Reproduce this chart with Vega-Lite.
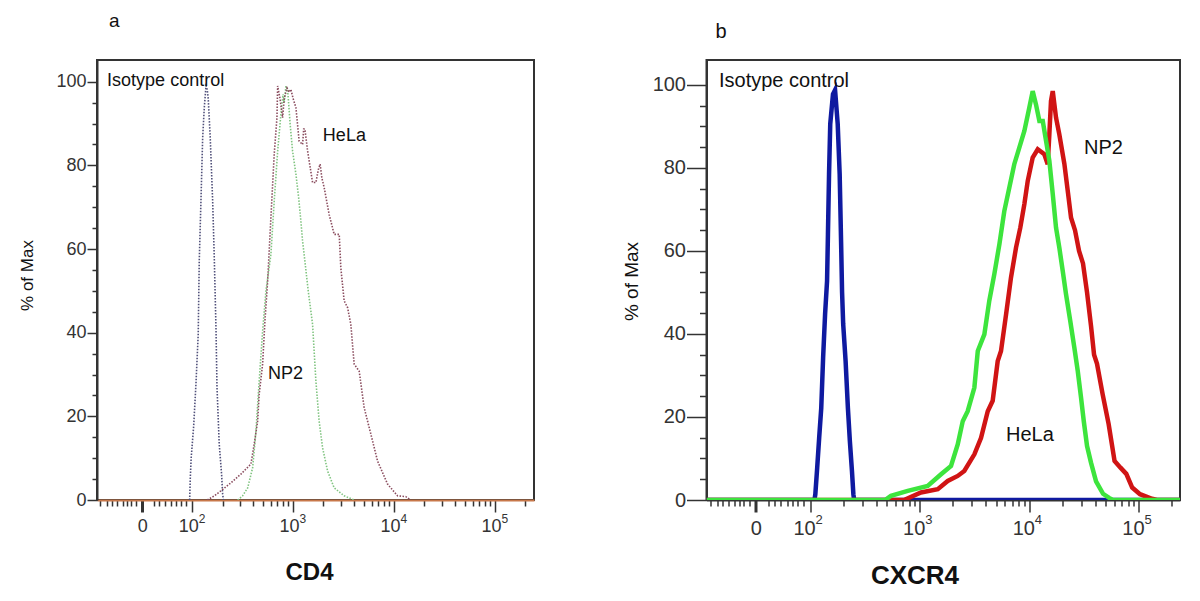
{
  "$schema": "https://vega.github.io/schema/vega-lite/v6.json",
  "autosize": {"type": "pad"},
  "padding": {"left": 17, "top": 11, "right": 21, "bottom": 12},
  "background": "white",
  "config": {
    "view": {"stroke": "#333333", "strokeWidth": 2},
    "font": "Liberation Sans",
    "axis": {"labelFont": "Liberation Sans", "titleFont": "Liberation Sans", "grid": false}
  },
  "datasets": {
    "cd4": [
      {"series": "Isotype", "pos": 1.975, "pct": 0}, {"series": "Isotype", "pos": 1.981, "pct": 5}, {"series": "Isotype", "pos": 1.99, "pct": 10},
      {"series": "Isotype", "pos": 2.015, "pct": 17.7}, {"series": "Isotype", "pos": 2.038, "pct": 28}, {"series": "Isotype", "pos": 2.06, "pct": 39.7},
      {"series": "Isotype", "pos": 2.07, "pct": 57}, {"series": "Isotype", "pos": 2.087, "pct": 71.5}, {"series": "Isotype", "pos": 2.104, "pct": 86.6},
      {"series": "Isotype", "pos": 2.12, "pct": 93.8}, {"series": "Isotype", "pos": 2.137, "pct": 99}, {"series": "Isotype", "pos": 2.147, "pct": 98.5},
      {"series": "Isotype", "pos": 2.159, "pct": 96}, {"series": "Isotype", "pos": 2.179, "pct": 86.6}, {"series": "Isotype", "pos": 2.203, "pct": 71.5},
      {"series": "Isotype", "pos": 2.219, "pct": 58}, {"series": "Isotype", "pos": 2.236, "pct": 41}, {"series": "Isotype", "pos": 2.246, "pct": 27},
      {"series": "Isotype", "pos": 2.268, "pct": 13.4}, {"series": "Isotype", "pos": 2.292, "pct": 6}, {"series": "Isotype", "pos": 2.302, "pct": 1.4},
      {"series": "Isotype", "pos": 2.31, "pct": 0},
      {"series": "NP2", "pos": 2.451, "pct": 0}, {"series": "NP2", "pos": 2.5, "pct": 1}, {"series": "NP2", "pos": 2.55, "pct": 2.9},
      {"series": "NP2", "pos": 2.599, "pct": 7.7}, {"series": "NP2", "pos": 2.632, "pct": 16.5}, {"series": "NP2", "pos": 2.664, "pct": 28.4},
      {"series": "NP2", "pos": 2.698, "pct": 40.4}, {"series": "NP2", "pos": 2.731, "pct": 50}, {"series": "NP2", "pos": 2.78, "pct": 58.7},
      {"series": "NP2", "pos": 2.813, "pct": 71.5}, {"series": "NP2", "pos": 2.847, "pct": 83.4}, {"series": "NP2", "pos": 2.879, "pct": 92.2},
      {"series": "NP2", "pos": 2.9, "pct": 97}, {"series": "NP2", "pos": 2.912, "pct": 95}, {"series": "NP2", "pos": 2.929, "pct": 99},
      {"series": "NP2", "pos": 2.945, "pct": 98}, {"series": "NP2", "pos": 2.952, "pct": 96.2}, {"series": "NP2", "pos": 2.971, "pct": 89.8},
      {"series": "NP2", "pos": 2.995, "pct": 83.4}, {"series": "NP2", "pos": 3.028, "pct": 77.9}, {"series": "NP2", "pos": 3.055, "pct": 72.3},
      {"series": "NP2", "pos": 3.077, "pct": 66.7}, {"series": "NP2", "pos": 3.094, "pct": 61.9}, {"series": "NP2", "pos": 3.117, "pct": 57.1},
      {"series": "NP2", "pos": 3.15, "pct": 50}, {"series": "NP2", "pos": 3.193, "pct": 42}, {"series": "NP2", "pos": 3.226, "pct": 28.4},
      {"series": "NP2", "pos": 3.258, "pct": 18.9}, {"series": "NP2", "pos": 3.292, "pct": 12.5}, {"series": "NP2", "pos": 3.342, "pct": 6.9},
      {"series": "NP2", "pos": 3.407, "pct": 2.9}, {"series": "NP2", "pos": 3.506, "pct": 1}, {"series": "NP2", "pos": 3.605, "pct": 0},
      {"series": "HeLa", "pos": 2.15, "pct": 0}, {"series": "HeLa", "pos": 2.22, "pct": 1}, {"series": "HeLa", "pos": 2.285, "pct": 2.2},
      {"series": "HeLa", "pos": 2.384, "pct": 4.1}, {"series": "HeLa", "pos": 2.483, "pct": 6.2}, {"series": "HeLa", "pos": 2.582, "pct": 8.6},
      {"series": "HeLa", "pos": 2.615, "pct": 13.4}, {"series": "HeLa", "pos": 2.649, "pct": 18.9}, {"series": "HeLa", "pos": 2.664, "pct": 25.3},
      {"series": "HeLa", "pos": 2.698, "pct": 32.5}, {"series": "HeLa", "pos": 2.721, "pct": 42.8}, {"series": "HeLa", "pos": 2.748, "pct": 52.4},
      {"series": "HeLa", "pos": 2.78, "pct": 67.5}, {"series": "HeLa", "pos": 2.813, "pct": 82.7}, {"series": "HeLa", "pos": 2.84, "pct": 91.4},
      {"series": "HeLa", "pos": 2.847, "pct": 99}, {"series": "HeLa", "pos": 2.87, "pct": 96}, {"series": "HeLa", "pos": 2.896, "pct": 91.4},
      {"series": "HeLa", "pos": 2.912, "pct": 96}, {"series": "HeLa", "pos": 2.94, "pct": 98.5}, {"series": "HeLa", "pos": 2.96, "pct": 97.5},
      {"series": "HeLa", "pos": 2.978, "pct": 98.2}, {"series": "HeLa", "pos": 3.0, "pct": 96}, {"series": "HeLa", "pos": 3.028, "pct": 93.8},
      {"series": "HeLa", "pos": 3.06, "pct": 85.8}, {"series": "HeLa", "pos": 3.094, "pct": 85}, {"series": "HeLa", "pos": 3.105, "pct": 88.7},
      {"series": "HeLa", "pos": 3.117, "pct": 88.7}, {"series": "HeLa", "pos": 3.144, "pct": 83.4}, {"series": "HeLa", "pos": 3.193, "pct": 75.9},
      {"series": "HeLa", "pos": 3.226, "pct": 75.9}, {"series": "HeLa", "pos": 3.25, "pct": 79}, {"series": "HeLa", "pos": 3.268, "pct": 80.3},
      {"series": "HeLa", "pos": 3.285, "pct": 77}, {"series": "HeLa", "pos": 3.308, "pct": 74.7}, {"series": "HeLa", "pos": 3.357, "pct": 68.3},
      {"series": "HeLa", "pos": 3.407, "pct": 63.5}, {"series": "HeLa", "pos": 3.457, "pct": 63.5}, {"series": "HeLa", "pos": 3.473, "pct": 55.5},
      {"series": "HeLa", "pos": 3.506, "pct": 47.6}, {"series": "HeLa", "pos": 3.54, "pct": 46}, {"series": "HeLa", "pos": 3.572, "pct": 42},
      {"series": "HeLa", "pos": 3.605, "pct": 32.5}, {"series": "HeLa", "pos": 3.655, "pct": 30.8}, {"series": "HeLa", "pos": 3.704, "pct": 22.1},
      {"series": "HeLa", "pos": 3.77, "pct": 15.8}, {"series": "HeLa", "pos": 3.837, "pct": 9.3}, {"series": "HeLa", "pos": 3.936, "pct": 3.8},
      {"series": "HeLa", "pos": 4.035, "pct": 1}, {"series": "HeLa", "pos": 4.117, "pct": 0.8}, {"series": "HeLa", "pos": 4.166, "pct": 0}
    ],
    "cxcr4": [
      {"series": "Isotype", "pos": 1.055, "pct": 0}, {"series": "Isotype", "pos": 2.04, "pct": 0}, {"series": "Isotype", "pos": 2.048, "pct": 1.4},
      {"series": "Isotype", "pos": 2.065, "pct": 7.8}, {"series": "Isotype", "pos": 2.083, "pct": 15}, {"series": "Isotype", "pos": 2.102, "pct": 22.2},
      {"series": "Isotype", "pos": 2.119, "pct": 34.3}, {"series": "Isotype", "pos": 2.137, "pct": 44.8}, {"series": "Isotype", "pos": 2.155, "pct": 52.8},
      {"series": "Isotype", "pos": 2.163, "pct": 64}, {"series": "Isotype", "pos": 2.173, "pct": 78.5}, {"series": "Isotype", "pos": 2.184, "pct": 90.6},
      {"series": "Isotype", "pos": 2.209, "pct": 97.8}, {"series": "Isotype", "pos": 2.228, "pct": 98.8}, {"series": "Isotype", "pos": 2.252, "pct": 90.6},
      {"series": "Isotype", "pos": 2.27, "pct": 78.5}, {"series": "Isotype", "pos": 2.283, "pct": 62}, {"series": "Isotype", "pos": 2.292, "pct": 50},
      {"series": "Isotype", "pos": 2.302, "pct": 42.4}, {"series": "Isotype", "pos": 2.324, "pct": 33.5}, {"series": "Isotype", "pos": 2.345, "pct": 22.2},
      {"series": "Isotype", "pos": 2.363, "pct": 14.2}, {"series": "Isotype", "pos": 2.382, "pct": 7}, {"series": "Isotype", "pos": 2.395, "pct": 1.4},
      {"series": "Isotype", "pos": 2.402, "pct": 0}, {"series": "Isotype", "pos": 5.375, "pct": 0},
      {"series": "NP2", "pos": 1.055, "pct": 0}, {"series": "NP2", "pos": 2.857, "pct": 0}, {"series": "NP2", "pos": 3.012, "pct": 1.8},
      {"series": "NP2", "pos": 3.165, "pct": 2.6}, {"series": "NP2", "pos": 3.256, "pct": 4.6}, {"series": "NP2", "pos": 3.347, "pct": 5.8},
      {"series": "NP2", "pos": 3.407, "pct": 7}, {"series": "NP2", "pos": 3.499, "pct": 11}, {"series": "NP2", "pos": 3.56, "pct": 15},
      {"series": "NP2", "pos": 3.621, "pct": 21.4}, {"series": "NP2", "pos": 3.666, "pct": 23.9}, {"series": "NP2", "pos": 3.712, "pct": 33.5},
      {"series": "NP2", "pos": 3.742, "pct": 35.9}, {"series": "NP2", "pos": 3.788, "pct": 44.7}, {"series": "NP2", "pos": 3.833, "pct": 53.6},
      {"series": "NP2", "pos": 3.879, "pct": 60.8}, {"series": "NP2", "pos": 3.918, "pct": 65.6}, {"series": "NP2", "pos": 3.955, "pct": 71.3},
      {"series": "NP2", "pos": 3.986, "pct": 76.9}, {"series": "NP2", "pos": 4.031, "pct": 82.5}, {"series": "NP2", "pos": 4.077, "pct": 84.5},
      {"series": "NP2", "pos": 4.137, "pct": 83.3}, {"series": "NP2", "pos": 4.168, "pct": 80.9}, {"series": "NP2", "pos": 4.183, "pct": 88.1},
      {"series": "NP2", "pos": 4.198, "pct": 96.1}, {"series": "NP2", "pos": 4.214, "pct": 98.5}, {"series": "NP2", "pos": 4.244, "pct": 92.1},
      {"series": "NP2", "pos": 4.274, "pct": 88.1}, {"series": "NP2", "pos": 4.32, "pct": 81}, {"series": "NP2", "pos": 4.353, "pct": 74},
      {"series": "NP2", "pos": 4.381, "pct": 68}, {"series": "NP2", "pos": 4.417, "pct": 65}, {"series": "NP2", "pos": 4.454, "pct": 60},
      {"series": "NP2", "pos": 4.49, "pct": 57}, {"series": "NP2", "pos": 4.527, "pct": 50}, {"series": "NP2", "pos": 4.563, "pct": 42},
      {"series": "NP2", "pos": 4.591, "pct": 35}, {"series": "NP2", "pos": 4.618, "pct": 32.8}, {"series": "NP2", "pos": 4.669, "pct": 25.5},
      {"series": "NP2", "pos": 4.724, "pct": 18.3}, {"series": "NP2", "pos": 4.778, "pct": 9.4}, {"series": "NP2", "pos": 4.832, "pct": 7.8},
      {"series": "NP2", "pos": 4.885, "pct": 6.3}, {"series": "NP2", "pos": 4.939, "pct": 3}, {"series": "NP2", "pos": 5.01, "pct": 1.4},
      {"series": "NP2", "pos": 5.12, "pct": 0.3}, {"series": "NP2", "pos": 5.165, "pct": 0}, {"series": "NP2", "pos": 5.375, "pct": 0},
      {"series": "HeLa", "pos": 1.055, "pct": 0}, {"series": "HeLa", "pos": 2.684, "pct": 0}, {"series": "HeLa", "pos": 2.738, "pct": 1},
      {"series": "HeLa", "pos": 2.891, "pct": 2.2}, {"series": "HeLa", "pos": 3.073, "pct": 3.4}, {"series": "HeLa", "pos": 3.195, "pct": 6.2},
      {"series": "HeLa", "pos": 3.286, "pct": 8.2}, {"series": "HeLa", "pos": 3.347, "pct": 13.4}, {"series": "HeLa", "pos": 3.393, "pct": 19},
      {"series": "HeLa", "pos": 3.438, "pct": 21.4}, {"series": "HeLa", "pos": 3.499, "pct": 27.1}, {"series": "HeLa", "pos": 3.53, "pct": 35.9},
      {"series": "HeLa", "pos": 3.59, "pct": 39.9}, {"series": "HeLa", "pos": 3.635, "pct": 48}, {"series": "HeLa", "pos": 3.681, "pct": 54.4},
      {"series": "HeLa", "pos": 3.727, "pct": 61.6}, {"series": "HeLa", "pos": 3.772, "pct": 69.6}, {"series": "HeLa", "pos": 3.818, "pct": 75.3},
      {"series": "HeLa", "pos": 3.863, "pct": 80.9}, {"series": "HeLa", "pos": 3.909, "pct": 84.9}, {"series": "HeLa", "pos": 3.955, "pct": 88.9},
      {"series": "HeLa", "pos": 4.0, "pct": 94.5}, {"series": "HeLa", "pos": 4.031, "pct": 98.5}, {"series": "HeLa", "pos": 4.061, "pct": 95.3},
      {"series": "HeLa", "pos": 4.092, "pct": 91.3}, {"series": "HeLa", "pos": 4.123, "pct": 91.3}, {"series": "HeLa", "pos": 4.153, "pct": 86.5},
      {"series": "HeLa", "pos": 4.183, "pct": 81.7}, {"series": "HeLa", "pos": 4.214, "pct": 73.7}, {"series": "HeLa", "pos": 4.244, "pct": 65.6},
      {"series": "HeLa", "pos": 4.274, "pct": 60.8}, {"series": "HeLa", "pos": 4.305, "pct": 55.2}, {"series": "HeLa", "pos": 4.335, "pct": 49.6},
      {"series": "HeLa", "pos": 4.374, "pct": 43.1}, {"series": "HeLa", "pos": 4.411, "pct": 36.7}, {"series": "HeLa", "pos": 4.442, "pct": 31.1},
      {"series": "HeLa", "pos": 4.472, "pct": 24.7}, {"series": "HeLa", "pos": 4.497, "pct": 19}, {"series": "HeLa", "pos": 4.527, "pct": 13},
      {"series": "HeLa", "pos": 4.563, "pct": 9}, {"series": "HeLa", "pos": 4.609, "pct": 4.5}, {"series": "HeLa", "pos": 4.673, "pct": 1.5},
      {"series": "HeLa", "pos": 4.728, "pct": 0.5}, {"series": "HeLa", "pos": 4.764, "pct": 0}, {"series": "HeLa", "pos": 5.375, "pct": 0}
    ],
    "annA": [
      {"label": "Isotype control", "pos": 1.157, "pct": 100.2},
      {"label": "HeLa", "pos": 3.295, "pct": 87},
      {"label": "NP2", "pos": 2.751, "pct": 30.1}
    ],
    "annB": [
      {"label": "Isotype control", "pos": 1.169, "pct": 101},
      {"label": "NP2", "pos": 4.499, "pct": 84.8},
      {"label": "HeLa", "pos": 3.788, "pct": 15.7}
    ]
  },
  "hconcat": [
    {
      "width": 437,
      "height": 440,
      "title": {"text": "a", "anchor": "start", "frame": "group", "offset": 14, "dx": 12, "baseline": "alphabetic", "fontSize": 19, "fontWeight": "normal", "font": "Liberation Sans", "color": "#111111"},
      "encoding": {
        "x": {"field": "pos", "type": "quantitative", "scale": {"domain": [1.057, 5.387], "nice": false, "zero": false}, "axis": null},
        "y": {
          "field": "pct", "type": "quantitative",
          "scale": {"domain": [0, 105.2], "nice": false, "zero": true},
          "axis": {
            "values": [0, 5, 10, 15, 20, 25, 30, 35, 40, 45, 50, 55, 60, 65, 70, 75, 80, 85, 90, 95, 100],
            "labelExpr": "datum.value % 20 == 0 ? datum.label : ''",
            "tickSize": {"condition": {"test": "datum.value % 20 == 0", "value": 10}, "value": 5},
            "tickColor": "#333333", "tickWidth": 1.5,
            "domainColor": "#333333", "domainWidth": 2,
            "labelFontSize": 18, "labelColor": "#333333", "labelPadding": 1, "labelOverlap": false,
            "title": "% of Max", "titleFontSize": 17, "titleFontWeight": "normal", "titleColor": "#111111",
            "titleX": -70, "titleY": 215, "titleBaseline": "middle", "titleAlign": "center"
          }
        }
      },
      "layer": [
        {
          "data": {"name": "cd4"}, "transform": [{"filter": "datum.series == 'Isotype'"}],
          "mark": {"type": "line", "color": "#50507a", "strokeWidth": 1.6, "strokeDash": [1.5, 1.5], "clip": true},
          "encoding": {
            "x": {
              "field": "pos", "type": "quantitative",
              "scale": {"domain": [1.057, 5.387], "nice": false, "zero": false},
              "axis": {
                "orient": "bottom",
                "values": [1.09, 1.157, 1.203, 1.256, 1.315, 1.355, 1.394, 1.444, 1.505, 1.625, 1.674, 1.731, 1.79, 1.84, 1.889, 1.939, 2, 2.301, 2.477, 2.602, 2.699, 2.778, 2.845, 2.903, 2.954, 3, 3.301, 3.477, 3.602, 3.699, 3.778, 3.845, 3.903, 3.954, 4, 4.301, 4.477, 4.602, 4.699, 4.778, 4.845, 4.903, 4.954, 5, 5.301],
                "labelExpr": "abs(datum.value - 1.505) < 0.001 ? '0' : abs(datum.value - round(datum.value)) < 0.001 ? '10' : ''",
                "labelOffset": {"condition": {"test": "datum.value > 1.9", "value": -4}, "value": 0},
                "tickSize": {"condition": {"test": "abs(datum.value - round(datum.value)) < 0.001 || abs(datum.value - 1.505) < 0.001", "value": 12}, "value": 6},
                "tickWidth": {"condition": {"test": "abs(datum.value - 1.505) < 0.001", "value": 3}, "value": 1.5},
                "tickColor": "#333333",
                "domainColor": "#c8784a", "domainWidth": 2,
                "labelFontSize": 18, "labelColor": "#333333", "labelPadding": 5, "labelFlush": false, "labelOverlap": false,
                "title": "CD4", "titleFontSize": 24, "titleFontWeight": "bold", "titleColor": "#111111",
                "titleX": 212, "titleY": 79, "titleBaseline": "alphabetic", "titleAlign": "center"
              }
            }
          }
        },
        {"data": {"name": "cd4"}, "transform": [{"filter": "datum.series == 'NP2'"}], "mark": {"type": "line", "color": "#80c480", "strokeWidth": 1.6, "strokeDash": [1.5, 1.5], "clip": true}},
        {"data": {"name": "cd4"}, "transform": [{"filter": "datum.series == 'HeLa'"}], "mark": {"type": "line", "color": "#8a4c5e", "strokeWidth": 1.6, "strokeDash": [1.5, 1.5], "clip": true}},
        {
          "data": {"name": "annA"},
          "mark": {"type": "text", "align": "left", "baseline": "middle", "fontSize": 18, "font": "Liberation Sans", "color": "#111111"},
          "encoding": {
            "text": {"field": "label"},
            "x": {
              "field": "pos", "type": "quantitative",
              "scale": {"domain": [1.057, 5.387], "nice": false, "zero": false},
              "axis": {
                "orient": "bottom", "values": [2, 3, 4, 5],
                "labelExpr": "format(datum.value, 'd')",
                "domain": false, "ticks": false, "labelAlign": "left", "labelOffset": 6, "labelBaseline": "top",
                "labelFontSize": 12, "labelColor": "#333333", "labelPadding": 13, "labelFlush": false, "labelOverlap": false,
                "title": null
              }
            }
          }
        }
      ],
      "resolve": {"axis": {"x": "independent"}}
    },
    {
      "width": 473.5,
      "height": 440,
      "title": {"text": "b", "anchor": "start", "frame": "group", "offset": 2, "dx": 9, "baseline": "alphabetic", "fontSize": 20, "fontWeight": "normal", "font": "Liberation Sans", "color": "#111111"},
      "encoding": {
        "x": {"field": "pos", "type": "quantitative", "scale": {"domain": [1.055, 5.375], "nice": false, "zero": false}, "axis": null},
        "y": {
          "field": "pct", "type": "quantitative",
          "scale": {"domain": [0, 106.0], "nice": false, "zero": true},
          "axis": {
            "values": [0, 5, 10, 15, 20, 25, 30, 35, 40, 45, 50, 55, 60, 65, 70, 75, 80, 85, 90, 95, 100],
            "labelExpr": "datum.value % 20 == 0 ? datum.label : ''",
            "tickSize": {"condition": {"test": "datum.value % 20 == 0", "value": 20}, "value": 7},
            "tickColor": "#333333", "tickWidth": 1.5,
            "domainColor": "#333333", "domainWidth": 2,
            "labelFontSize": 20, "labelColor": "#333333", "labelPadding": 1, "labelOverlap": false,
            "title": "% of Max", "titleFontSize": 19, "titleFontWeight": "normal", "titleColor": "#111111",
            "titleX": -75, "titleY": 221, "titleBaseline": "middle", "titleAlign": "center"
          }
        }
      },
      "layer": [
        {
          "data": {"name": "cxcr4"}, "transform": [{"filter": "datum.series == 'Isotype'"}],
          "mark": {"type": "line", "color": "#0f1aa0", "strokeWidth": 4.5, "clip": true},
          "encoding": {
            "x": {
              "field": "pos", "type": "quantitative",
              "scale": {"domain": [1.055, 5.375], "nice": false, "zero": false},
              "axis": {
                "orient": "bottom",
                "values": [1.09, 1.157, 1.203, 1.256, 1.315, 1.355, 1.394, 1.444, 1.505, 1.625, 1.674, 1.731, 1.79, 1.84, 1.889, 1.939, 2, 2.301, 2.477, 2.602, 2.699, 2.778, 2.845, 2.903, 2.954, 3, 3.301, 3.477, 3.602, 3.699, 3.778, 3.845, 3.903, 3.954, 4, 4.301, 4.477, 4.602, 4.699, 4.778, 4.845, 4.903, 4.954, 5, 5.301],
                "labelExpr": "abs(datum.value - 1.505) < 0.001 ? '0' : abs(datum.value - round(datum.value)) < 0.001 ? '10' : ''",
                "labelOffset": {"condition": {"test": "datum.value > 1.9", "value": -6}, "value": 0},
                "tickSize": {"condition": {"test": "abs(datum.value - round(datum.value)) < 0.001 || abs(datum.value - 1.505) < 0.001", "value": 12}, "value": 6},
                "tickWidth": {"condition": {"test": "abs(datum.value - 1.505) < 0.001", "value": 3}, "value": 1.5},
                "tickColor": "#333333",
                "domainColor": "#333333", "domainWidth": 2,
                "labelFontSize": 20, "labelColor": "#333333", "labelPadding": 6, "labelFlush": false, "labelOverlap": false,
                "title": "CXCR4", "titleFontSize": 26, "titleFontWeight": "bold", "titleColor": "#111111",
                "titleX": 208, "titleY": 83, "titleBaseline": "alphabetic", "titleAlign": "center"
              }
            }
          }
        },
        {"data": {"name": "cxcr4"}, "transform": [{"filter": "datum.series == 'NP2'"}], "mark": {"type": "line", "color": "#d01414", "strokeWidth": 4.5, "clip": true}},
        {"data": {"name": "cxcr4"}, "transform": [{"filter": "datum.series == 'HeLa'"}], "mark": {"type": "line", "color": "#3de43d", "strokeWidth": 4.5, "clip": true}},
        {
          "data": {"name": "annB"},
          "mark": {"type": "text", "align": "left", "baseline": "middle", "fontSize": 20, "font": "Liberation Sans", "color": "#111111"},
          "encoding": {
            "text": {"field": "label"},
            "x": {
              "field": "pos", "type": "quantitative",
              "scale": {"domain": [1.055, 5.375], "nice": false, "zero": false},
              "axis": {
                "orient": "bottom", "values": [2, 3, 4, 5],
                "labelExpr": "format(datum.value, 'd')",
                "domain": false, "ticks": false, "labelAlign": "left", "labelOffset": 5, "labelBaseline": "top",
                "labelFontSize": 13, "labelColor": "#333333", "labelPadding": 13, "labelFlush": false, "labelOverlap": false,
                "title": null
              }
            }
          }
        }
      ],
      "resolve": {"axis": {"x": "independent"}}
    }
  ],
  "spacing": 172.5,
  "bounds": "flush"
}
